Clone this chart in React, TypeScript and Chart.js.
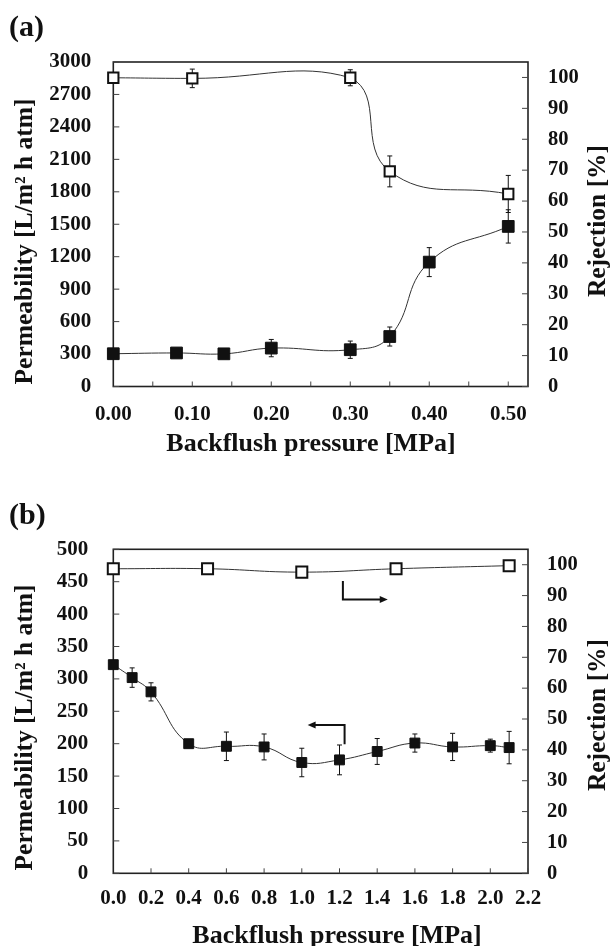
import React, { useEffect, useRef } from "react";
import { Chart, registerables } from "chart.js";
Chart.register(...registerables);

// ---------- Panel (a) data ----------
const aPermX = [0, 0.08, 0.14, 0.2, 0.3, 0.35, 0.4, 0.5];
const aPermY = [303, 310, 302, 355, 340, 462, 1150, 1480];
const aPermErr = [20, 20, 20, 80, 80, 88, 134, 154];
const aRejX = [0, 0.1, 0.3, 0.35, 0.5];
const aRejY = [99.9, 99.7, 99.9, 69.6, 62.3];
const aRejErr = [0.5, 3.0, 2.6, 5.0, 6.0];
const aXTicks = [0, 0.1, 0.2, 0.3, 0.4, 0.5];
const aXMarks = [0.05, 0.1, 0.15, 0.2, 0.25, 0.3, 0.35, 0.4, 0.45, 0.5];
const aLeftTicks = [0, 300, 600, 900, 1200, 1500, 1800, 2100, 2400, 2700, 3000];

// ---------- Panel (b) data ----------
const bPermX = [0, 0.1, 0.2, 0.4, 0.6, 0.8, 1.0, 1.2, 1.4, 1.6, 1.8, 2.0, 2.1];
const bPermY = [322, 302, 280, 200, 196, 195, 171, 175, 188, 201, 195, 197, 194];
const bPermErr = [4, 15, 14, 4, 22, 20, 22, 23, 20, 14, 21, 10, 25];
const bRejX = [0, 0.5, 1.0, 1.5, 2.1];
const bRejY = [98.7, 98.7, 97.6, 98.7, 99.7];
const bRejErr = [0, 0, 0, 0, 0];
const bXTicks = [0, 0.2, 0.4, 0.6, 0.8, 1.0, 1.2, 1.4, 1.6, 1.8, 2.0, 2.2];
const bLeftTicks = [0, 50, 100, 150, 200, 250, 300, 350, 400, 450, 500];

const rightTicks = [0, 10, 20, 30, 40, 50, 60, 70, 80, 90, 100];

// annotation arrows (b): [x1,y1,x2,y2,x3,y3] in data units
const arrowRight = [1.218, 94.7, 1.218, 88.7, 1.456, 88.7];
const arrowLeft = [1.227, 199, 1.227, 229, 1.031, 229];

const TXT = "Permeability [L/m\u00B2 h atm]";
const FONT = "'Liberation Serif', 'Times New Roman', serif";
const INK = "#111";

type Cfg = {
  label: string;
  labelBaseline: number;
  permX: number[]; permY: number[]; permErr: number[];
  rejX: number[]; rejY: number[]; rejErr: number[];
  xMax: number; xTicks: number[]; xMarks: number[]; xDigits: number;
  leftMax: number; leftTicks: number[];
  topPad: number; xHeight: number;
  xPad: number; leftPad: number; rightPad: number;
  leftTitleY: number; rightTitleY: number; xTitleX: number; xTitleBase: number;
  arrows: boolean;
  filledR: number; openR: number;
};

function drawArrow(ctx: CanvasRenderingContext2D, chart: any, pts: number[], axis: string) {
  const xs = chart.scales.x, ys = chart.scales[axis];
  const p = [0, 2, 4].map((i) => [xs.getPixelForValue(pts[i]), ys.getPixelForValue(pts[i + 1])]);
  ctx.save();
  ctx.strokeStyle = INK;
  ctx.fillStyle = INK;
  ctx.lineWidth = 2;
  const dir = Math.sign(p[2][0] - p[1][0]);
  ctx.beginPath();
  ctx.moveTo(p[0][0], p[0][1]);
  ctx.lineTo(p[1][0], p[1][1]);
  ctx.lineTo(p[2][0] - dir * 6, p[2][1]);
  ctx.stroke();
  ctx.beginPath();
  ctx.moveTo(p[2][0], p[2][1]);
  ctx.lineTo(p[2][0] - dir * 8, p[2][1] - 3.5);
  ctx.lineTo(p[2][0] - dir * 8, p[2][1] + 3.5);
  ctx.closePath();
  ctx.fill();
  ctx.restore();
}

function build(canvas: HTMLCanvasElement, c: Cfg) {
  const plugin = {
    id: "decor",
    beforeDatasetsDraw(chart: any) {
      const ctx = chart.ctx as CanvasRenderingContext2D;
      const a = chart.chartArea;
      const xs = chart.scales.x, yl = chart.scales.y, yr = chart.scales.y1;
      ctx.save();
      // frame
      ctx.strokeStyle = "#222";
      ctx.lineWidth = 1.6;
      ctx.strokeRect(a.left, a.top, a.right - a.left, a.bottom - a.top);
      // inward tick marks
      ctx.lineWidth = 1;
      ctx.strokeStyle = "#444";
      ctx.beginPath();
      c.xMarks.forEach((v) => {
        const px = xs.getPixelForValue(v);
        ctx.moveTo(px, a.bottom);
        ctx.lineTo(px, a.bottom - 5);
      });
      rightTicks.forEach((v) => {
        const py = yr.getPixelForValue(v);
        ctx.moveTo(a.right, py);
        ctx.lineTo(a.right - 6, py);
      });
      c.leftTicks.forEach((v) => {
        const py = yl.getPixelForValue(v);
        ctx.moveTo(a.left, py);
        ctx.lineTo(a.left + 6, py);
      });
      ctx.stroke();
      // error bars
      ctx.strokeStyle = INK;
      ctx.lineWidth = 1;
      const groups: [number[], number[], number[], any][] = [
        [c.permX, c.permY, c.permErr, yl],
        [c.rejX, c.rejY, c.rejErr, yr],
      ];
      groups.forEach(([xv, yv, ev, sc]) => {
        xv.forEach((x, i) => {
          if (!ev[i]) return;
          const px = xs.getPixelForValue(x);
          const t = sc.getPixelForValue(yv[i] + ev[i]);
          const b = sc.getPixelForValue(yv[i] - ev[i]);
          ctx.beginPath();
          ctx.moveTo(px, t); ctx.lineTo(px, b);
          ctx.moveTo(px - 2.5, t); ctx.lineTo(px + 2.5, t);
          ctx.moveTo(px - 2.5, b); ctx.lineTo(px + 2.5, b);
          ctx.stroke();
        });
      });
      ctx.restore();
    },
    afterDraw(chart: any) {
      const ctx = chart.ctx as CanvasRenderingContext2D;
      ctx.save();
      ctx.fillStyle = INK;
      // panel label
      ctx.font = `bold 30px ${FONT}`;
      ctx.textAlign = "left";
      ctx.textBaseline = "alphabetic";
      ctx.fillText(c.label, 9, c.labelBaseline);
      // left title
      ctx.font = `bold 25.5px ${FONT}`;
      ctx.save();
      ctx.translate(32, c.leftTitleY);
      ctx.rotate(-Math.PI / 2);
      ctx.textAlign = "center";
      ctx.fillText(TXT, 0, 0);
      ctx.restore();
      // right title
      ctx.save();
      ctx.translate(605, c.rightTitleY);
      ctx.rotate(-Math.PI / 2);
      ctx.textAlign = "center";
      ctx.fillText("Rejection [%]", 0, 0);
      ctx.restore();
      // x title
      ctx.font = `bold 26px ${FONT}`;
      ctx.textAlign = "center";
      ctx.fillText("Backflush pressure [MPa]", c.xTitleX, c.xTitleBase);
      if (c.arrows) {
        drawArrow(ctx, chart, arrowRight, "y1");
        drawArrow(ctx, chart, arrowLeft, "y");
      }
      ctx.restore();
    },
  };

  const tickFont = { family: FONT, size: 21, weight: "bold" as const };
  return new Chart(canvas, {
    type: "line",
    data: {
      datasets: [
        {
          data: c.permX.map((x, i) => ({ x, y: c.permY[i] })),
          yAxisID: "y",
          borderColor: "#333",
          borderWidth: 1,
          tension: 0.45,
          pointStyle: "rect",
          pointRadius: c.filledR,
          pointBackgroundColor: INK,
          pointBorderColor: INK,
          pointBorderWidth: 1,
          clip: false as any,
        },
        {
          data: c.rejX.map((x, i) => ({ x, y: c.rejY[i] })),
          yAxisID: "y1",
          borderColor: "#333",
          borderWidth: 1,
          tension: 0.45,
          pointStyle: "rect",
          pointRadius: c.openR,
          pointBackgroundColor: "#fff",
          pointBorderColor: INK,
          pointBorderWidth: 2,
          clip: false as any,
        },
      ],
    },
    options: {
      responsive: false,
      animation: false,
      devicePixelRatio: 1,
      layout: { padding: { top: c.topPad, left: 0, right: 0, bottom: 0 } },
      plugins: { legend: { display: false }, tooltip: { enabled: false } },
      scales: {
        x: {
          type: "linear",
          min: 0,
          max: c.xMax,
          afterBuildTicks: (s: any) => { s.ticks = c.xTicks.map((v) => ({ value: v })); },
          afterFit: (s: any) => { s.height = c.xHeight; },
          ticks: {
            font: tickFont, color: INK, padding: c.xPad, maxRotation: 0, autoSkip: false,
            callback: (v: any) => Number(v).toFixed(c.xDigits),
          },
          grid: { display: false, drawTicks: false },
          border: { display: false },
        },
        y: {
          position: "left",
          min: 0,
          max: c.leftMax,
          afterBuildTicks: (s: any) => { s.ticks = c.leftTicks.map((v) => ({ value: v })); },
          afterFit: (s: any) => { s.width = 113.3; },
          ticks: { font: tickFont, color: INK, padding: c.leftPad, autoSkip: false, callback: (v: any) => String(v) },
          grid: { display: false, drawTicks: false },
          border: { display: false },
        },
        y1: {
          position: "right",
          min: 0,
          max: 105,
          afterBuildTicks: (s: any) => { s.ticks = rightTicks.map((v) => ({ value: v })); },
          afterFit: (s: any) => { s.width = 83; },
          ticks: { font: { ...tickFont, size: 20.5 }, color: INK, padding: c.rightPad, autoSkip: false, callback: (v: any) => String(v) },
          grid: { display: false, drawTicks: false },
          border: { display: false },
        },
      },
    } as any,
    plugins: [plugin],
  });
}

export default function App() {
  const refA = useRef<HTMLCanvasElement>(null);
  const refB = useRef<HTMLCanvasElement>(null);
  useEffect(() => {
    const ca = build(refA.current!, {
      label: "(a)", labelBaseline: 36,
      permX: aPermX, permY: aPermY, permErr: aPermErr,
      rejX: aRejX, rejY: aRejY, rejErr: aRejErr,
      xMax: 0.525, xTicks: aXTicks, xMarks: aXMarks, xDigits: 2,
      leftMax: 3000, leftTicks: aLeftTicks,
      topPad: 62, xHeight: 86.5, xPad: 15, leftPad: 22, rightPad: 20,
      leftTitleY: 241.5, rightTitleY: 221, xTitleX: 311, xTitleBase: 451,
      arrows: false, filledR: 8.3, openR: 7.3,
    });
    const cb = build(refB.current!, {
      label: "(b)", labelBaseline: 50.7,
      permX: bPermX, permY: bPermY, permErr: bPermErr,
      rejX: bRejX, rejY: bRejY, rejErr: bRejErr,
      xMax: 2.2, xTicks: bXTicks, xMarks: bXTicks.slice(1), xDigits: 1,
      leftMax: 500, leftTicks: bLeftTicks,
      topPad: 76.3, xHeight: 72.7, xPad: 13, leftPad: 25, rightPad: 19,
      leftTitleY: 254.5, rightTitleY: 242, xTitleX: 337, xTitleBase: 469.5,
      arrows: true, filledR: 7, openR: 7.8,
    });
    return () => { ca.destroy(); cb.destroy(); };
  }, []);
  return (
    <div style={{ position: "absolute", left: 0, top: 0, width: 611, height: 946, background: "#fff" }}>
      <canvas ref={refA} width={611} height={473} style={{ position: "absolute", left: 0, top: 0, width: 611, height: 473 }} />
      <canvas ref={refB} width={611} height={473} style={{ position: "absolute", left: 0, top: 473, width: 611, height: 473 }} />
    </div>
  );
}
